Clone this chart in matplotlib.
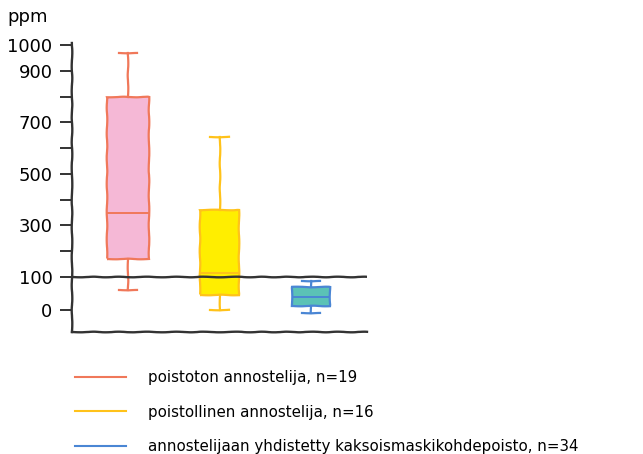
import numpy as np
import matplotlib.pyplot as plt
from matplotlib.lines import Line2D

# data (ppm)
groups = ["poistoton annostelija, n=19",
          "poistollinen annostelija, n=16",
          "annostelijaan yhdistetty kaksoismaskikohdepoisto, n=34"]
whislo = [60, 0, -10]
q1 = [170, 45, 12]
med = [350, 115, 40]
q3 = [800, 360, 70]
whishi = [970, 645, 88]

edge_colors = ["#f0785a", "#ffc21a", "#4a86d4"]
fill_colors = ["#f5b8d6", "#ffee00", "#5bc2b6"]

major_ticks = [0, 100, 300, 500, 700, 900, 1000]
minor_ticks = [200, 400, 600, 800]

# below 100 the axis is stretched
K = 1.28


def fwd(v):
    v = np.asarray(v, dtype=float)
    return np.where(v >= 100, v, 100 - (100 - v) * K)


def inv(y):
    y = np.asarray(y, dtype=float)
    return np.where(y >= 100, y, 100 - (100 - y) / K)


# slight hand-drawn wobble
sketch = (0.3, 30, 2)

fig = plt.figure(figsize=(6.43, 4.54), dpi=100)
ax = fig.add_axes([0.112, 0.269, 0.459, 0.636])
ax.set_yscale("function", functions=(fwd, inv))

stats = []
for i in range(3):
    stats.append(dict(whislo=whislo[i], q1=q1[i], med=med[i], q3=q3[i],
                      whishi=whishi[i], fliers=[]))

bp = ax.bxp(stats, positions=[1, 2, 3], widths=[0.46, 0.42, 0.42],
            patch_artist=True, showfliers=False)

for i in range(3):
    bp["boxes"][i].set_facecolor(fill_colors[i])
    bp["boxes"][i].set_edgecolor(edge_colors[i])
    bp["boxes"][i].set_linewidth(1.6)
    bp["boxes"][i].set_sketch_params(*sketch)
    bp["medians"][i].set_color(edge_colors[i])
    bp["medians"][i].set_linewidth(1.4)
    for part in ("whiskers", "caps"):
        for ln in bp[part][2 * i:2 * i + 2]:
            ln.set_color(edge_colors[i])
            ln.set_linewidth(1.6)
            ln.set_sketch_params(*sketch)

for ln in bp["caps"]:
    x = ln.get_xdata()
    c = (x[0] + x[1]) / 2
    ln.set_xdata([c - 0.1, c + 0.1])

# reference line at 100
hl = ax.axhline(100, color="#333333", lw=1.7)
hl.set_sketch_params(*sketch)

ax.set_xlim(0.39, 3.61)
ax.set_ylim(-67, 1008)

for s in ("top", "right"):
    ax.spines[s].set_visible(False)
for s in ("left", "bottom"):
    ax.spines[s].set_color("#333333")
    ax.spines[s].set_linewidth(1.7)
    ax.spines[s].set_sketch_params(*sketch)

ax.set_xticks([])
ax.set_yticks(major_ticks)
ax.set_yticks(minor_ticks, minor=True)
ax.set_yticklabels([str(t) for t in major_ticks])
ax.tick_params(axis="y", which="both", length=9, width=1.4, color="#333333",
               labelsize=13, pad=5)

fig.text(0.011, 0.963, "ppm", fontsize=13, ha="left", va="center")

handles = [Line2D([], [], color=c, lw=1.5) for c in edge_colors]
fig.legend(handles, groups, loc="upper left", bbox_to_anchor=(0.107, 0.198),
           frameon=False, fontsize=10.8, handlelength=3.4, handletextpad=1.5,
           labelspacing=1.3, borderaxespad=0)

fig.savefig("out.png", dpi=100)
